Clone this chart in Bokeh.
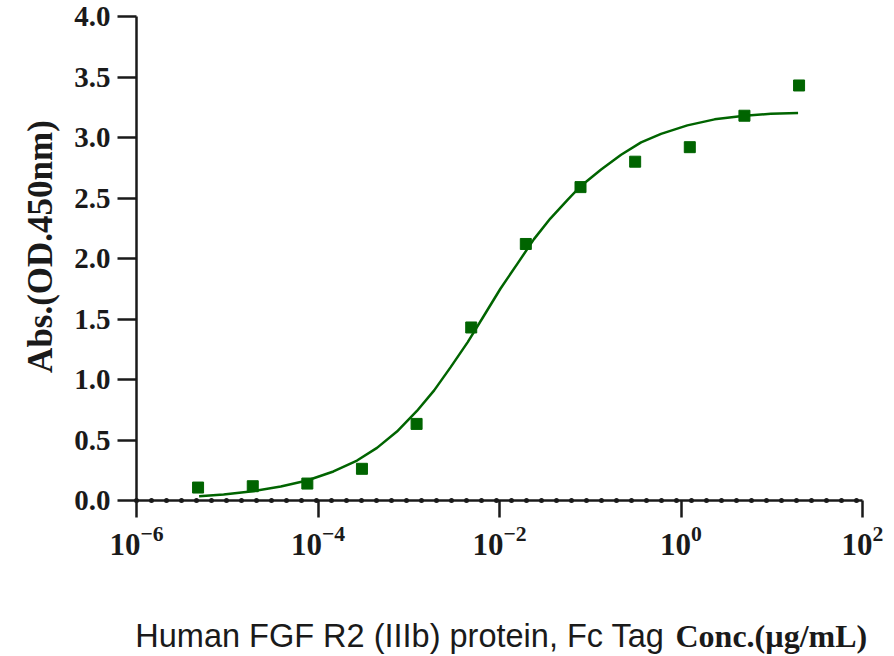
import math

from bokeh.embed import file_html
from bokeh.models import FixedTicker, Label, PrintfTickFormatter, Range1d
from bokeh.plotting import figure
from bokeh.resources import INLINE

# ELISA binding, 4-fold serial dilution (ug/mL)
conc = [4.77e-6, 1.91e-5, 7.63e-5, 3.05e-4, 1.22e-3, 4.88e-3,
        1.95e-2, 7.81e-2, 0.3125, 1.25, 5.0, 20.0]
od450 = [0.107, 0.118, 0.140, 0.262, 0.633, 1.43,
         2.12, 2.59, 2.80, 2.92, 3.18, 3.43]

# fitted curve (log10 conc, OD)
fit_log_conc = [-5.31, -5.04, -4.72, -4.41, -4.12, -3.83, -3.57, -3.35, -3.13, -2.91,
                -2.72, -2.54, -2.35, -2.17, -1.99, -1.80, -1.62, -1.44, -1.25, -1.11,
                -0.88, -0.66, -0.44, -0.22, 0.07, 0.37, 0.70, 0.99, 1.29]
fit_od = [0.036, 0.050, 0.077, 0.116, 0.165, 0.240, 0.330, 0.435, 0.570, 0.740,
          0.910, 1.100, 1.309, 1.529, 1.750, 1.960, 2.160, 2.330, 2.485, 2.595,
          2.735, 2.857, 2.960, 3.030, 3.100, 3.150, 3.180, 3.196, 3.202]
fit_conc = [10 ** v for v in fit_log_conc]

x_ticks = [1e-6, 1e-4, 1e-2, 1e0, 1e2]
y_ticks = [0.0, 0.5, 1.0, 1.5, 2.0, 2.5, 3.0, 3.5, 4.0]

GREEN = "#006400"
INK = "#1a1a1a"

W, H = 894, 656
# pixel box of the axes inside the canvas; the frame is the whole canvas so
# that the two-font x title and the y title can sit anywhere
AX_L, AX_R, AX_T, AX_B = 136, 862, 16, 500

lx0, lx1 = math.log10(x_ticks[0]), math.log10(x_ticks[-1])
px_dec = (AX_R - AX_L) / (lx1 - lx0)
x_lo = 10 ** (lx0 - AX_L / px_dec)
x_hi = 10 ** (lx1 + (W - AX_R) / px_dec)
px_unit = (AX_B - AX_T) / (y_ticks[-1] - y_ticks[0])
y_lo = y_ticks[0] - (H - AX_B) / px_unit
y_hi = y_ticks[-1] + AX_T / px_unit

p = figure(width=W, height=H, x_axis_type="log",
           x_range=Range1d(x_lo, x_hi), y_range=Range1d(y_lo, y_hi),
           output_backend="svg", toolbar_location=None,
           min_border=0)
p.outline_line_color = None
p.grid.visible = False

for ax in (p.xaxis[0], p.yaxis[0]):
    ax.axis_line_width = 2.5
    ax.axis_line_color = INK
    ax.major_tick_line_width = 2.5
    ax.major_tick_line_color = INK
    ax.major_tick_in = 0
    ax.minor_tick_line_color = None
    ax.major_label_text_font = "Liberation Serif"
    ax.major_label_text_font_style = "bold"
    ax.major_label_text_color = INK

p.xaxis.fixed_location = y_ticks[0]
p.xaxis.bounds = (x_ticks[0], x_ticks[-1])
p.xaxis.ticker = FixedTicker(ticks=x_ticks, minor_ticks=[])
p.xaxis.major_tick_out = 17
p.xaxis.major_label_standoff = 8
p.xaxis.major_label_text_font_size = "31px"

p.yaxis.fixed_location = x_ticks[0]
p.yaxis.bounds = (y_ticks[0], y_ticks[-1])
p.yaxis.ticker = FixedTicker(ticks=y_ticks, minor_ticks=[])
p.yaxis.formatter = PrintfTickFormatter(format="%.1f")
p.yaxis.major_tick_out = 19
p.yaxis.major_label_standoff = 7
p.yaxis.major_label_text_font_size = "29px"

# dotted marks along the x axis line
p.line(x=[x_ticks[0], x_ticks[-1]], y=[y_ticks[0], y_ticks[0]], line_color=INK,
       line_width=5, line_dash="0 15", line_cap="round")

p.line(x=fit_conc, y=fit_od, line_color=GREEN, line_width=2.5)
p.scatter(x=conc, y=od450, marker="square", size=11, fill_color=GREEN, line_color=GREEN)

p.add_layout(Label(x=40, y=H - 246, x_units="screen", y_units="screen", angle=math.pi / 2,
                   text="Abs.(OD.450nm)", text_font="Liberation Serif", text_font_style="bold",
                   text_font_size="35px", text_align="center", text_baseline="middle",
                   text_color=INK))

# x title: two fonts side by side (y nudged up, Label puts the baseline lower)
TITLE_Y = H - 647 + 12
p.add_layout(Label(x=664, y=TITLE_Y, x_units="screen", y_units="screen",
                   text="Human FGF R2 (IIIb) protein, Fc Tag", text_font="Liberation Sans",
                   text_font_size="32.5px", text_align="right", text_baseline="alphabetic",
                   text_color=INK))
p.add_layout(Label(x=675, y=TITLE_Y, x_units="screen", y_units="screen",
                   text="Conc.(µg/mL)", text_font="Liberation Serif", text_font_style="bold",
                   text_font_size="32px", text_align="left", text_baseline="alphabetic",
                   text_color=INK))

open("out.html", "w").write(file_html(p, INLINE))
